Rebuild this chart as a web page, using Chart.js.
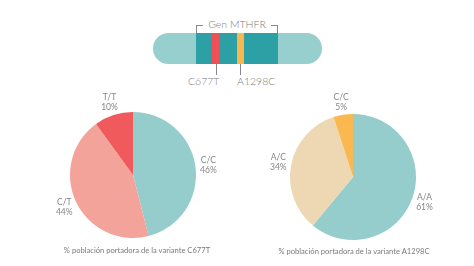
<!DOCTYPE html>
<html>
<head>
<meta charset="utf-8">
<script src="https://cdn.jsdelivr.net/npm/chart.js@4"></script>
<style>
  body { margin: 0; background: #fff; font-family: "Lato", sans-serif; }
  #wrap { position: relative; width: 474px; height: 266px; overflow: hidden; }
  canvas { position: absolute; }
  .abs { position: absolute; }
  .txt { color: #7c7c7c; white-space: nowrap; font-weight: 300; }
  .caption { font-size: 7.6px; color: #7a7a7a; white-space: nowrap; transform: translateX(-50%); }
</style>
</head>
<body>
<div id="wrap">
  <!-- gene diagram -->
  <div class="abs" style="left:153px;top:33px;width:169px;height:31px;border-radius:15.5px;background:#97cfce;"></div>
  <div class="abs" style="left:196px;top:33px;width:82px;height:31px;background:#2ca0a4;"></div>
  <div class="abs" style="left:212px;top:33px;width:7px;height:31px;background:#ef4f55;"></div>
  <div class="abs" style="left:237px;top:33px;width:7px;height:31px;background:#fab74d;"></div>
  <div class="abs" style="left:196px;top:25px;width:1px;height:8px;background:#888;"></div>
  <div class="abs" style="left:277px;top:25px;width:1px;height:8px;background:#888;"></div>
  <div class="abs" style="left:196px;top:25px;width:7px;height:1px;background:#888;"></div>
  <div class="abs" style="left:271px;top:25px;width:7px;height:1px;background:#888;"></div>
  <div class="abs txt" style="left:237px;top:18px;font-size:10.5px;transform:translateX(-50%);">Gen MTHFR</div>
  <div class="abs" style="left:216px;top:64px;width:1px;height:11px;background:#888;"></div>
  <div class="abs" style="left:240px;top:64px;width:1px;height:11px;background:#888;"></div>
  <div class="abs txt" style="left:188px;top:75px;font-size:10.5px;">C677T</div>
  <div class="abs txt" style="left:237px;top:75px;font-size:10.5px;">A1298C</div>

  <canvas id="pieA" width="200" height="180" style="left:33px;top:85px;"></canvas>
  <canvas id="pieB" width="200" height="180" style="left:253px;top:87px;"></canvas>

  <div class="abs caption" style="left:137px;top:245px;">% población portadora de la variante C677T</div>
  <div class="abs caption" style="left:354px;top:246px;">% población portadora de la variante A1298C</div>
</div>

<script>
// C677T genotypes
const c677Labels = ["C/C", "C/T", "T/T"];
const c677Values = [46, 44, 10];
const c677Colors = ["#94cdcc", "#f4a39a", "#f05a5d"];

// A1298C genotypes
const a1298Labels = ["A/A", "A/C", "C/C"];
const a1298Values = [61, 34, 5];
const a1298Colors = ["#94cdcc", "#eed8b4", "#fbb851"];

// draws "label / value%" outside each slice, at its mid angle
const outsideLabels = {
  id: "outsideLabels",
  afterDatasetsDraw(chart) {
    const ctx = chart.ctx;
    const meta = chart.getDatasetMeta(0);
    const labels = chart.data.labels;
    const values = chart.data.datasets[0].data;
    ctx.save();
    ctx.fillStyle = "#868686";
    ctx.font = "8.5px Lato, sans-serif";
    ctx.textAlign = "center";
    ctx.textBaseline = "middle";
    meta.data.forEach((arc, i) => {
      const p = arc.getProps(["x", "y", "startAngle", "endAngle", "outerRadius"], true);
      const mid = (p.startAngle + p.endAngle) / 2;
      const r = p.outerRadius + 13;
      const x = p.x + Math.cos(mid) * r;
      const y = p.y + Math.sin(mid) * r;
      ctx.fillText(labels[i], x, y - 5);
      ctx.fillText(values[i] + "%", x, y + 5);
    });
    ctx.restore();
  },
};

function makePie(id, labels, values, colors) {
  new Chart(document.getElementById(id), {
    type: "pie",
    data: {
      labels,
      datasets: [{ data: values, backgroundColor: colors, borderWidth: 0 }],
    },
    options: {
      responsive: false,
      animation: false,
      layout: { padding: { top: 27, bottom: 27, left: 37, right: 37 } },
      plugins: { legend: { display: false }, tooltip: { enabled: false } },
    },
    plugins: [outsideLabels],
  });
}

makePie("pieA", c677Labels, c677Values, c677Colors);
makePie("pieB", a1298Labels, a1298Values, a1298Colors);
</script>
</body>
</html>
